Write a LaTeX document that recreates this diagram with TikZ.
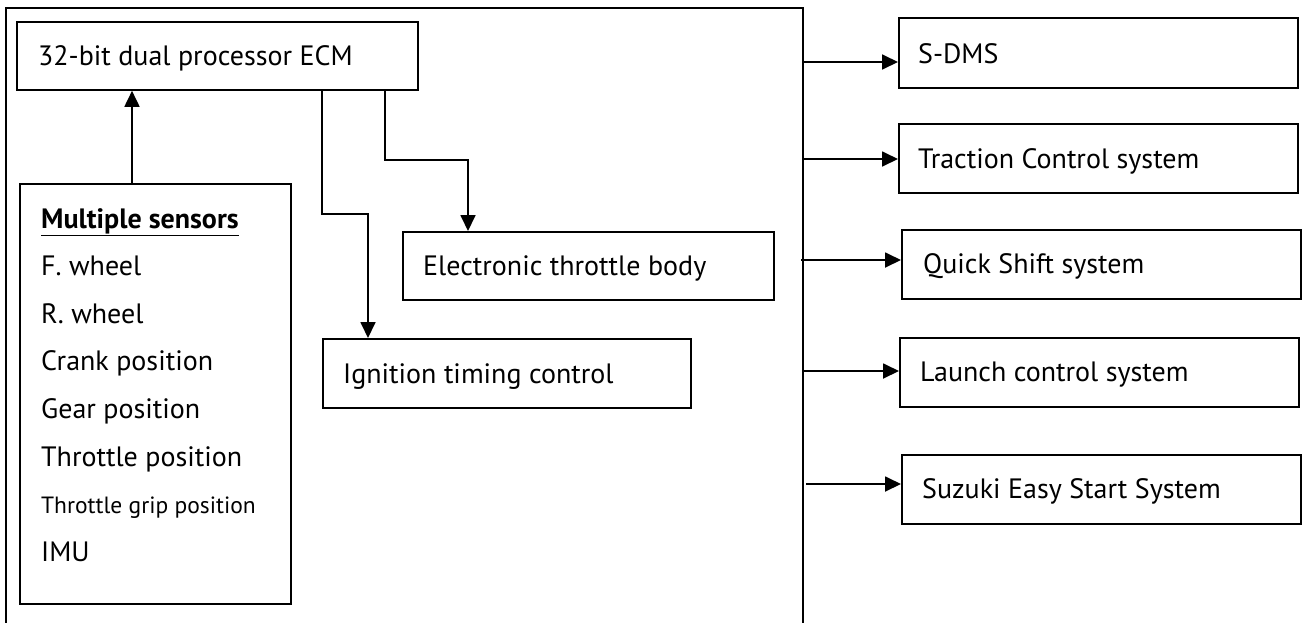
\documentclass[tikz,border=0pt]{standalone}
\usepackage{fontspec}
\setmainfont{PT Sans}
\usetikzlibrary{arrows.meta}
\tikzset{
  x=1pt, y=-1pt,
  bx/.style={draw, line width=1.8pt, anchor=north west, inner xsep=0pt, inner ysep=0pt},
  lbl/.style={anchor=base west, inner sep=0pt, font=\fontsize{28}{32}\selectfont},
  small/.style={anchor=base west, inner sep=0pt, font=\fontsize{23.5}{27}\selectfont},
  arr/.style={line width=1.8pt, -{Triangle[length=16pt,width=15pt]}},
  ln/.style={line width=1.8pt}
}
\begin{document}
\begin{tikzpicture}
\useasboundingbox (0,0) rectangle (1306,622);
% outer frame (bottom edge lies below the picture)
\coordinate (fa) at (6,640);
\coordinate (fb) at (6,8);
\coordinate (fc) at (803,8);
\coordinate (fd) at (803,640);
\draw[ln] (fa) -- (fb) -- (fc) -- (fd);

% boxes
\node[bx, minimum width=401pt, minimum height=68pt] (ecm) at (16,21) {};
\node[bx, minimum width=271pt, minimum height=420pt] (sens) at (19,183) {};
\node[bx, minimum width=371pt, minimum height=68pt] (etb) at (402,231) {};
\node[bx, minimum width=368pt, minimum height=69pt] (ign) at (322,338) {};
\node[bx, minimum width=399pt, minimum height=70pt] (sdms) at (898,17) {};
\node[bx, minimum width=399pt, minimum height=69pt] (tcs) at (898,123) {};
\node[bx, minimum width=399pt, minimum height=69pt] (qss) at (901,229) {};
\node[bx, minimum width=399pt, minimum height=69pt] (lcs) at (899,337) {};
\node[bx, minimum width=399pt, minimum height=69pt] (sess) at (901,454) {};

% texts
\node[lbl] (tecm) at (38,65) {32-bit dual processor ECM};
\node[lbl] (tetb) at (423,275) {Electronic throttle body};
\node[lbl] (tign) at (343,383) {Ignition timing control};
\node[lbl] (tsdms) at (918,63) {S-DMS};
\node[lbl] (ttcs) at (918,168) {Traction Control system};
\node[lbl] (tqss) at (923,273) {Quick Shift system};
\node[lbl] (tlcs) at (920,381) {Launch control system};
\node[lbl] (tsess) at (922,498) {Suzuki Easy Start System};

\node[lbl] (s0) at (41,228) {\underline{\textbf{Multiple sensors}}};
\node[lbl] (s1) at (41,275) {F. wheel};
\node[lbl] (s2) at (41,323) {R. wheel};
\node[lbl] (s3) at (41,370) {Crank position};
\node[lbl] (s4) at (41,418) {Gear position};
\node[lbl] (s5) at (41,466) {Throttle position};
\node[small] (s6) at (41,513) {Throttle grip position};
\node[lbl] (s7) at (41,561) {IMU};

% internal connectors
\coordinate (sx) at (132,0);
\draw[arr] (sens.north -| sx) -- (ecm.south -| sx);
\coordinate (t1) at (385,160);
\coordinate (t2) at (468,160);
\draw[arr] (ecm.south -| t1) -- (t1) -- (t2) -- (etb.north -| t2);
\coordinate (i1) at (322,214);
\coordinate (i2) at (368,214);
\draw[arr] (ecm.south -| i1) -- (i1) -- (i2) -- (ign.north -| i2);

% outputs
\coordinate (o1) at (803,62);
\coordinate (o2) at (803,159);
\coordinate (o3) at (801,260);
\coordinate (o4) at (803,371);
\coordinate (o5) at (806,484);
\draw[arr] (o1) -- (o1 -| sdms.west);
\draw[arr] (o2) -- (o2 -| tcs.west);
\draw[arr] (o3) -- (o3 -| qss.west);
\draw[arr] (o4) -- (o4 -| lcs.west);
\draw[arr] (o5) -- (o5 -| sess.west);
\end{tikzpicture}
\end{document}
